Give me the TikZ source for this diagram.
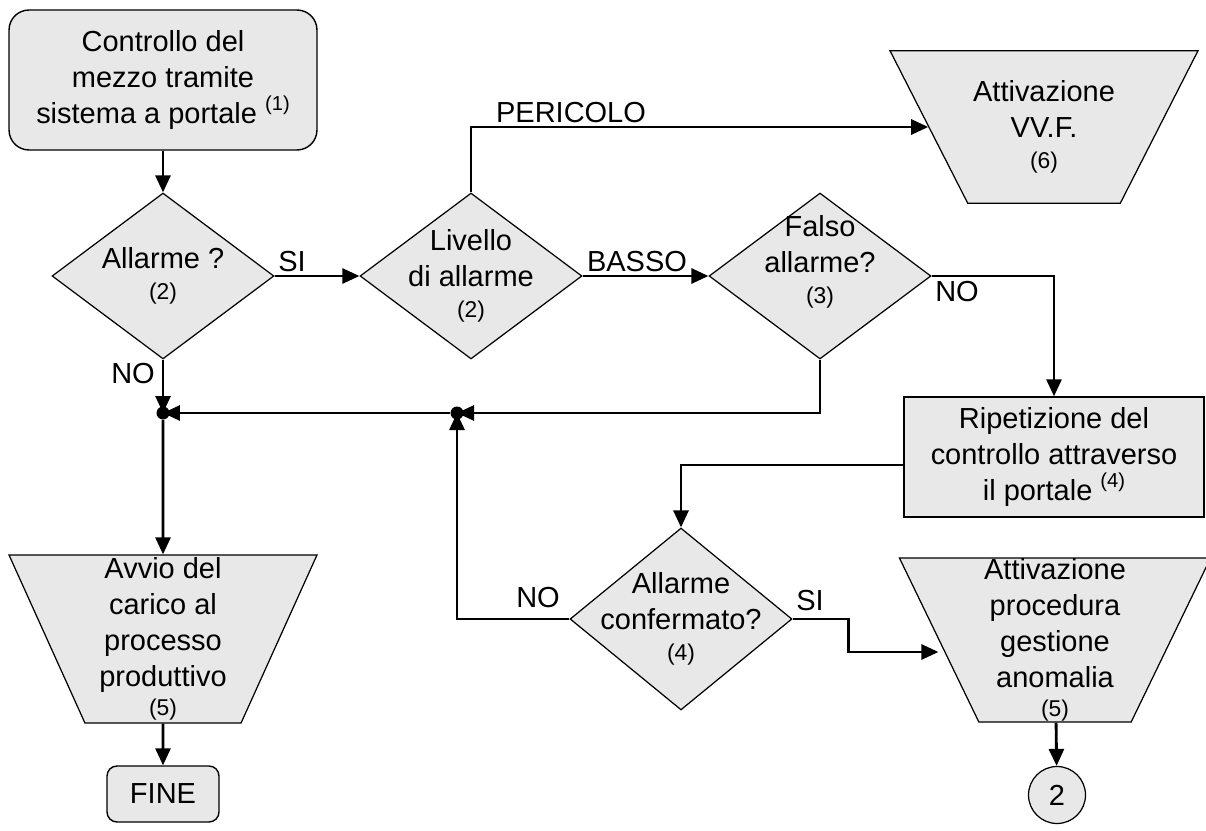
\documentclass[tikz,border=0pt]{standalone}
\usepackage{fontspec}
\setmainfont{Liberation Sans}
\usetikzlibrary{shapes.geometric,arrows.meta}
\definecolor{grigio}{RGB}{232,232,232}
\newcommand{\nota}[1]{{\fontsize{13}{14}\selectfont #1}}
\newcommand{\apice}[1]{\raisebox{0.45em}{\fontsize{11.5}{12}\selectfont #1}}
\tikzset{
  testo/.style={font=\fontsize{16.5}{20.5}\selectfont, align=center},
  term/.style={testo, draw, fill=grigio, line width=0.8pt},
  proc/.style={testo, draw, fill=grigio, line width=0.8pt},
  dec/.style={diamond, draw, fill=grigio, inner sep=0pt, line width=0.7pt},
  io/.style={testo, trapezium, shape border rotate=180, trapezium stretches body,
    draw, fill=grigio, line width=0.7pt, inner xsep=3pt, inner ysep=0pt},
  conn/.style={testo, circle, draw, fill=grigio, line width=0.7pt, minimum size=1.14cm, inner sep=0pt},
  nodo/.style={circle, fill=black, inner sep=0pt, minimum size=0.26cm},
  freccia/.style={line width=1.6pt, -{Triangle[length=3.4mm,width=3mm]}},
  etich/.style={font=\fontsize{16.5}{20.5}\selectfont, inner sep=0pt}
}
\begin{document}
\begin{tikzpicture}[x=0.02cm, y=-0.02cm]
\useasboundingbox (0,0) rectangle (1206,831);
\node[term, rounded corners=0.4cm, minimum width=6.16cm, minimum height=2.8cm] (inizio) at (163,80)
  {Controllo del\\mezzo tramite\\sistema a portale \apice{(1)}};
\node[dec, minimum width=4.44cm, minimum height=3.32cm,
  label={[testo]center:{Allarme ?\\[-3pt]\nota{(2)}}}] (allarme) at (163,276) {};
\node[dec, minimum width=4.44cm, minimum height=3.32cm,
  label={[testo]center:{Livello\\di allarme\\[-3pt]\nota{(2)}}}] (livello) at (471,276) {};
\node[dec, minimum width=4.44cm, minimum height=3.32cm,
  label={[testo, yshift=0.28cm]center:{Falso\\allarme?\\[-3pt]\nota{(3)}}}] (falso) at (820,276) {};
\node[dec, minimum width=4.44cm, minimum height=3.64cm,
  label={[testo]center:{Allarme\\confermato?\\[-3pt]\nota{(4)}}}] (conferma) at (681,619) {};
\node[io, inner ysep=0.6cm, minimum width=6.16cm, minimum height=3.02cm, trapezium left angle=63, trapezium right angle=63]
  (vvf) at (1044,127) {Attivazione\\VV.F.\\[-3pt]\nota{(6)}};
\node[proc, minimum width=6.0cm, minimum height=2.4cm] (ripet) at (1054,457)
  {Ripetizione del\\controllo attraverso\\il portale \apice{(4)}};
\node[io, minimum width=6.16cm, minimum height=3.36cm, trapezium left angle=65, trapezium right angle=65]
  (avvio) at (163,639) {Avvio del\\carico al\\processo\\produttivo\\[-4pt]\nota{(5)}};
\node[io, minimum width=6.06cm, minimum height=3.28cm, trapezium left angle=64, trapezium right angle=64]
  (anomalia) at (1055,640) {Attivazione\\procedura\\gestione\\anomalia\\[-4pt]\nota{(5)}};
\node[term, rounded corners=0.2cm, minimum width=2.24cm, minimum height=1.12cm] (fine) at (163,794) {FINE};
\node[conn] (due) at (1057,795) {2};
\node[nodo] (j1) at (163,413) {};
\node[nodo] (j2) at (457,413) {};

\node[etich] (si1) at (292,262) {SI};
\node[etich] (no1) at (133,374) {NO};
\node[etich] (peric) at (571,113) {PERICOLO};
\node[etich] (basso) at (637,262) {BASSO};
\node[etich] (no2) at (957,292) {NO};
\node[etich] (no3) at (538,598) {NO};
\node[etich] (si2) at (810,601) {SI};

\draw[freccia] (inizio) -- (allarme);
\draw[freccia] (allarme) -- (livello);
\draw[freccia] (livello.north) |- (vvf);
\draw[freccia] (livello) -- (falso);
\draw[freccia] (falso.east) -| (ripet.north);
\draw[freccia] (falso.south) |- (j2.center);
\draw[freccia] (j2) -- (j1.center);
\draw[freccia] (allarme.south) -- (j1.center);
\draw[freccia] (j1) -- (avvio);
\draw[freccia] (avvio) -- (fine);
\draw[freccia] ([yshift=-0.16cm]ripet.west) -| (conferma.north);
\draw[freccia] (conferma.west) -| (j2.center);
\draw[freccia] (conferma.east) -- ++(56,0) |- ([yshift=-0.24cm]anomalia.west);
\draw[freccia] (anomalia) -- (due);
\end{tikzpicture}
\end{document}
